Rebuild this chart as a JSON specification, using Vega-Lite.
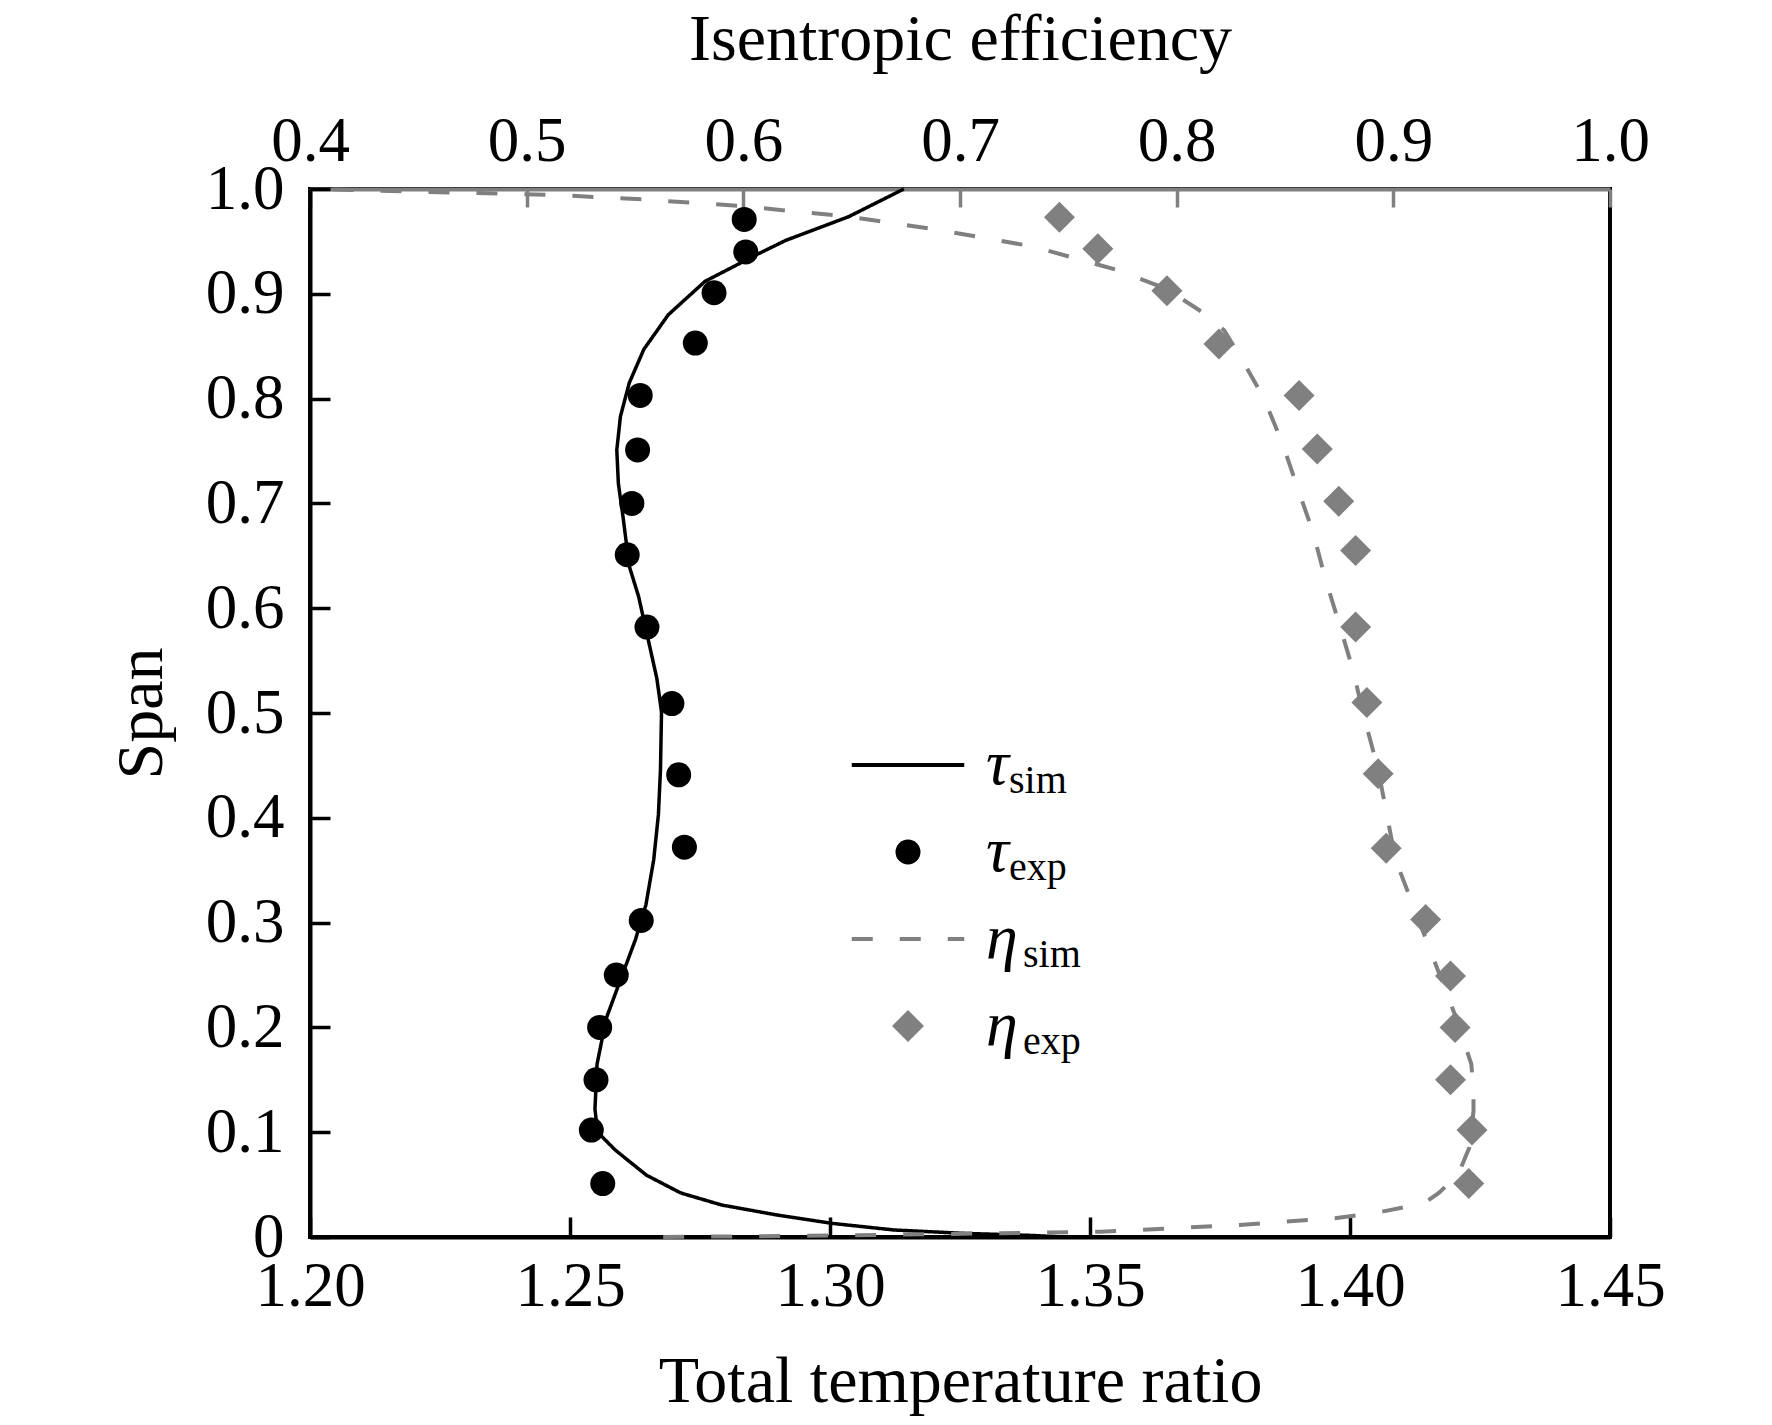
{
  "$schema": "https://vega.github.io/schema/vega-lite/v6.json",
  "width": 1300,
  "height": 1048,
  "autosize": {"type": "none"},
  "padding": {"left": 310, "top": 189, "right": 162, "bottom": 188},
  "background": "white",
  "config": {
    "font": "Liberation Serif",
    "view": {"stroke": "black", "strokeWidth": 4},
    "axis": {
      "grid": false,
      "labelFont": "Liberation Serif",
      "titleFont": "Liberation Serif",
      "labelFontSize": 63,
      "titleFontSize": 66,
      "titleFontWeight": "normal",
      "labelColor": "black",
      "titleColor": "black",
      "domainWidth": 4,
      "tickWidth": 3.5,
      "labelFlush": false,
      "labelOverlap": false
    }
  },
  "data": {
    "values": [
      {"s": "tau_sim", "x": 1.3142, "y": 1.0},
      {"s": "tau_sim", "x": 1.3036, "y": 0.9736},
      {"s": "tau_sim", "x": 1.2915, "y": 0.951},
      {"s": "tau_sim", "x": 1.2864, "y": 0.9386},
      {"s": "tau_sim", "x": 1.276, "y": 0.912},
      {"s": "tau_sim", "x": 1.2689, "y": 0.88},
      {"s": "tau_sim", "x": 1.2642, "y": 0.847},
      {"s": "tau_sim", "x": 1.2614, "y": 0.815},
      {"s": "tau_sim", "x": 1.2597, "y": 0.783},
      {"s": "tau_sim", "x": 1.259, "y": 0.751},
      {"s": "tau_sim", "x": 1.2593, "y": 0.719},
      {"s": "tau_sim", "x": 1.2602, "y": 0.687},
      {"s": "tau_sim", "x": 1.2614, "y": 0.64},
      {"s": "tau_sim", "x": 1.2632, "y": 0.611},
      {"s": "tau_sim", "x": 1.2667, "y": 0.533},
      {"s": "tau_sim", "x": 1.2676, "y": 0.501},
      {"s": "tau_sim", "x": 1.2674, "y": 0.446},
      {"s": "tau_sim", "x": 1.267, "y": 0.403},
      {"s": "tau_sim", "x": 1.2661, "y": 0.36},
      {"s": "tau_sim", "x": 1.2646, "y": 0.317},
      {"s": "tau_sim", "x": 1.2626, "y": 0.284},
      {"s": "tau_sim", "x": 1.2602, "y": 0.252},
      {"s": "tau_sim", "x": 1.257, "y": 0.209},
      {"s": "tau_sim", "x": 1.2552, "y": 0.165},
      {"s": "tau_sim", "x": 1.2548, "y": 0.122},
      {"s": "tau_sim", "x": 1.2553, "y": 0.1},
      {"s": "tau_sim", "x": 1.2587, "y": 0.083},
      {"s": "tau_sim", "x": 1.2647, "y": 0.059},
      {"s": "tau_sim", "x": 1.2713, "y": 0.042},
      {"s": "tau_sim", "x": 1.2792, "y": 0.0305},
      {"s": "tau_sim", "x": 1.2898, "y": 0.021},
      {"s": "tau_sim", "x": 1.3004, "y": 0.013},
      {"s": "tau_sim", "x": 1.3123, "y": 0.0067},
      {"s": "tau_sim", "x": 1.3256, "y": 0.0035},
      {"s": "tau_sim", "x": 1.3388, "y": 0.0015},
      {"s": "tau_sim", "x": 1.345, "y": 0.0},

      {"s": "tau_exp", "x": 1.2835, "y": 0.971},
      {"s": "tau_exp", "x": 1.2838, "y": 0.94},
      {"s": "tau_exp", "x": 1.2777, "y": 0.901},
      {"s": "tau_exp", "x": 1.2741, "y": 0.853},
      {"s": "tau_exp", "x": 1.2635, "y": 0.803},
      {"s": "tau_exp", "x": 1.263, "y": 0.751},
      {"s": "tau_exp", "x": 1.2619, "y": 0.7},
      {"s": "tau_exp", "x": 1.261, "y": 0.651},
      {"s": "tau_exp", "x": 1.2648, "y": 0.582},
      {"s": "tau_exp", "x": 1.2696, "y": 0.509},
      {"s": "tau_exp", "x": 1.2709, "y": 0.441},
      {"s": "tau_exp", "x": 1.272, "y": 0.372},
      {"s": "tau_exp", "x": 1.2637, "y": 0.302},
      {"s": "tau_exp", "x": 1.2589, "y": 0.25},
      {"s": "tau_exp", "x": 1.2557, "y": 0.2},
      {"s": "tau_exp", "x": 1.255, "y": 0.15},
      {"s": "tau_exp", "x": 1.2541, "y": 0.102},
      {"s": "tau_exp", "x": 1.2563, "y": 0.051},

      {"s": "eta_sim", "x": 0.4, "y": 1.0},
      {"s": "eta_sim", "x": 0.469, "y": 0.9965},
      {"s": "eta_sim", "x": 0.513, "y": 0.9943},
      {"s": "eta_sim", "x": 0.554, "y": 0.99},
      {"s": "eta_sim", "x": 0.5985, "y": 0.9838},
      {"s": "eta_sim", "x": 0.6485, "y": 0.9736},
      {"s": "eta_sim", "x": 0.69, "y": 0.961},
      {"s": "eta_sim", "x": 0.734, "y": 0.945},
      {"s": "eta_sim", "x": 0.772, "y": 0.923},
      {"s": "eta_sim", "x": 0.795, "y": 0.905},
      {"s": "eta_sim", "x": 0.8134, "y": 0.8804},
      {"s": "eta_sim", "x": 0.822, "y": 0.865},
      {"s": "eta_sim", "x": 0.831, "y": 0.834},
      {"s": "eta_sim", "x": 0.84, "y": 0.8015},
      {"s": "eta_sim", "x": 0.8486, "y": 0.7586},
      {"s": "eta_sim", "x": 0.8555, "y": 0.7166},
      {"s": "eta_sim", "x": 0.8629, "y": 0.6727},
      {"s": "eta_sim", "x": 0.8685, "y": 0.6288},
      {"s": "eta_sim", "x": 0.8749, "y": 0.5859},
      {"s": "eta_sim", "x": 0.8814, "y": 0.541},
      {"s": "eta_sim", "x": 0.886, "y": 0.5},
      {"s": "eta_sim", "x": 0.893, "y": 0.446},
      {"s": "eta_sim", "x": 0.897, "y": 0.403},
      {"s": "eta_sim", "x": 0.901, "y": 0.36},
      {"s": "eta_sim", "x": 0.909, "y": 0.317},
      {"s": "eta_sim", "x": 0.919, "y": 0.263},
      {"s": "eta_sim", "x": 0.929, "y": 0.209},
      {"s": "eta_sim", "x": 0.936, "y": 0.165},
      {"s": "eta_sim", "x": 0.937, "y": 0.14},
      {"s": "eta_sim", "x": 0.937, "y": 0.12},
      {"s": "eta_sim", "x": 0.935, "y": 0.085},
      {"s": "eta_sim", "x": 0.93, "y": 0.06},
      {"s": "eta_sim", "x": 0.921, "y": 0.042},
      {"s": "eta_sim", "x": 0.914, "y": 0.032},
      {"s": "eta_sim", "x": 0.892, "y": 0.023},
      {"s": "eta_sim", "x": 0.873, "y": 0.018},
      {"s": "eta_sim", "x": 0.829, "y": 0.0115},
      {"s": "eta_sim", "x": 0.765, "y": 0.005},
      {"s": "eta_sim", "x": 0.714, "y": 0.0035},
      {"s": "eta_sim", "x": 0.647, "y": 0.0015},
      {"s": "eta_sim", "x": 0.563, "y": 0.0},

      {"s": "eta_exp", "x": 0.7459, "y": 0.973},
      {"s": "eta_exp", "x": 0.7636, "y": 0.943},
      {"s": "eta_exp", "x": 0.7955, "y": 0.903},
      {"s": "eta_exp", "x": 0.8195, "y": 0.852},
      {"s": "eta_exp", "x": 0.8565, "y": 0.803},
      {"s": "eta_exp", "x": 0.8649, "y": 0.752},
      {"s": "eta_exp", "x": 0.8748, "y": 0.702},
      {"s": "eta_exp", "x": 0.8826, "y": 0.655},
      {"s": "eta_exp", "x": 0.8826, "y": 0.582},
      {"s": "eta_exp", "x": 0.8878, "y": 0.51},
      {"s": "eta_exp", "x": 0.893, "y": 0.442},
      {"s": "eta_exp", "x": 0.8967, "y": 0.371},
      {"s": "eta_exp", "x": 0.9149, "y": 0.303},
      {"s": "eta_exp", "x": 0.9264, "y": 0.249},
      {"s": "eta_exp", "x": 0.9285, "y": 0.2},
      {"s": "eta_exp", "x": 0.9264, "y": 0.15},
      {"s": "eta_exp", "x": 0.9363, "y": 0.102},
      {"s": "eta_exp", "x": 0.9348, "y": 0.051}
    ]
  },
  "encoding": {
    "y": {
      "field": "y",
      "type": "quantitative",
      "scale": {"domain": [0, 1], "nice": false, "zero": false},
      "axis": {
        "title": "Span",
        "values": [0, 0.1, 0.2, 0.3, 0.4, 0.5, 0.6, 0.7, 0.8, 0.9, 1.0],
        "labelExpr": "datum.value == 0 ? '0' : format(datum.value, '.1f')",
        "domainColor": "black",
        "tickColor": "black",
        "tickSize": -20,
        "labelPadding": 46,
        "titlePadding": 30
      }
    }
  },
  "layer": [
    {
      "encoding": {
        "x": {
          "field": "x",
          "type": "quantitative",
          "scale": {"domain": [1.2, 1.45], "nice": false, "zero": false},
          "axis": {
            "orient": "bottom",
            "title": "Total temperature ratio",
            "values": [1.2, 1.25, 1.3, 1.35, 1.4, 1.45],
            "format": ".2f",
            "domainColor": "black",
            "tickColor": "black",
            "tickSize": -20,
            "labelPadding": 38,
            "titlePadding": 31
          }
        }
      },
      "layer": [
        {
          "transform": [{"filter": "datum.s == 'tau_sim'"}],
          "mark": {"type": "line", "strokeWidth": 3.5},
          "encoding": {
            "order": {"field": "y", "type": "quantitative"},
            "stroke": {
              "field": "s",
              "type": "nominal",
              "scale": {
                "domain": ["tau_sim", "tau_exp", "eta_sim", "eta_exp"],
                "range": ["black", "transparent", "#808080", "transparent"]
              },
              "legend": {
                "orient": "none",
                "legendX": 566,
                "legendY": 544,
                "title": null,
                "padding": 0,
                "values": ["tau_sim", "tau_exp", "eta_sim", "eta_exp"],
                "labelExpr": "indexof(datum.label, 'tau') == 0 ? 'τ' : 'η'",
                "labelFont": "Liberation Serif",
                "labelFontStyle": "italic",
                "labelFontSize": 64,
                "labelColor": "black",
                "symbolSize": 625,
                "symbolStrokeWidth": 4,
                "symbolOpacity": 1,
                "labelOffset": 46,
                "rowPadding": 23
              }
            },
            "strokeDash": {
              "field": "s",
              "type": "nominal",
              "scale": {
                "domain": ["tau_sim", "tau_exp", "eta_sim", "eta_exp"],
                "range": [[1, 0], [1, 0], [21, 27], [1, 0]]
              }
            },
            "opacity": {
              "field": "s",
              "type": "nominal",
              "scale": {
                "domain": ["tau_exp", "tau_sim", "eta_sim", "eta_exp"],
                "range": [1, 1]
              },
              "legend": {
                "orient": "none",
                "legendX": 566,
                "legendY": 572,
                "title": null,
                "padding": 0,
                "values": ["tau_sim", "tau_exp", "eta_sim", "eta_exp"],
                "labelExpr": "substring(datum.label, 4)",
                "labelFont": "Liberation Serif",
                "labelFontSize": 40,
                "labelColor": "black",
                "symbolType": "M0,0",
                "symbolSize": 625,
                "symbolStrokeWidth": 4,
                "symbolStrokeColor": "transparent",
                "symbolFillColor": "transparent",
                "labelOffset": 93,
                "rowPadding": 47,
                "encode": {
                  "labels": {
                    "update": {
                      "dx": {"signal": "indexof(datum.value, 'eta') == 0 ? 14 : 0"}
                    }
                  }
                }
              }
            }
          }
        },
        {
          "transform": [{"filter": "datum.s == 'tau_exp'"}],
          "mark": {"type": "point", "filled": true, "size": 625, "opacity": 1, "strokeWidth": 0},
          "encoding": {
            "fill": {
              "field": "s",
              "type": "nominal",
              "scale": {
                "domain": ["tau_sim", "tau_exp", "eta_sim", "eta_exp"],
                "range": ["transparent", "black", "transparent", "#808080"]
              }
            },
            "shape": {
              "field": "s",
              "type": "nominal",
              "scale": {
                "domain": ["tau_sim", "tau_exp", "eta_sim", "eta_exp"],
                "range": ["M-4.5,0H4.5", "circle", "M-4.5,0H4.5", "M-1.28,0L0,-1.28L1.28,0L0,1.28Z"]
              }
            }
          }
        }
      ]
    },
    {
      "encoding": {
        "x": {
          "field": "x",
          "type": "quantitative",
          "scale": {"domain": [0.4, 1.0], "nice": false, "zero": false},
          "axis": {
            "orient": "top",
            "title": "Isentropic efficiency",
            "values": [0.4, 0.5, 0.6, 0.7, 0.8, 0.9, 1.0],
            "format": ".1f",
            "domainColor": "#808080",
            "tickColor": "#808080",
            "tickSize": -18,
            "labelPadding": 34,
            "titlePadding": 37
          }
        }
      },
      "layer": [
        {
          "transform": [{"filter": "datum.s == 'eta_sim'"}],
          "mark": {"type": "line", "strokeWidth": 4},
          "encoding": {
            "order": {"field": "y", "type": "quantitative"},
            "stroke": {"field": "s", "type": "nominal"},
            "strokeDash": {"field": "s", "type": "nominal"},
            "opacity": {"field": "s", "type": "nominal"}
          }
        },
        {
          "transform": [{"filter": "datum.s == 'eta_exp'"}],
          "mark": {"type": "point", "filled": true, "size": 587, "opacity": 1, "strokeWidth": 0},
          "encoding": {
            "fill": {"field": "s", "type": "nominal"},
            "shape": {"field": "s", "type": "nominal"}
          }
        }
      ]
    }
  ],
  "resolve": {"scale": {"x": "independent"}}
}
